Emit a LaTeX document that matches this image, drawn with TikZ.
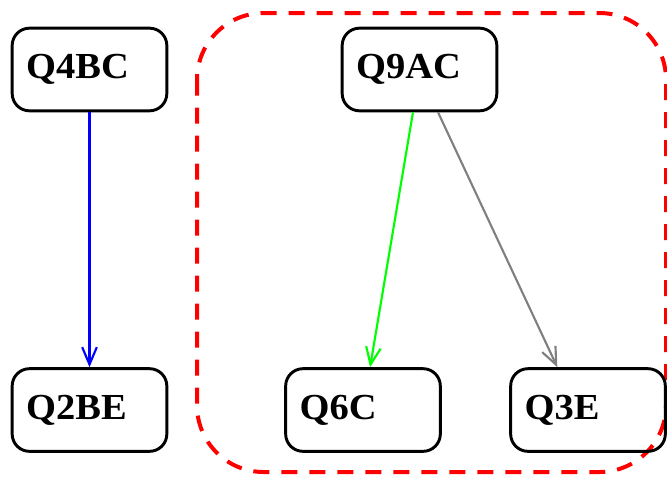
\documentclass[tikz,border=0pt]{standalone}
\usepackage{fontspec}
\setmainfont{Liberation Serif}
\usetikzlibrary{arrows.meta}
\begin{document}
\begin{tikzpicture}[x=0.75pt,y=-0.75pt,
  qbox/.style={draw=black,line width=2.2pt,rounded corners=13pt,minimum width=116pt,minimum height=62pt,
    text width=95pt,align=left,inner xsep=9pt,inner ysep=0pt,font=\fontsize{27.5}{29}\selectfont\bfseries},
  edge/.style={line width=1.6pt,-{Straight Barb[length=13pt,width=11pt,line width=1.6pt]}},
  cluster/.style={draw=red,line width=3pt,dash pattern=on 12pt off 9pt,rounded corners=50pt}]
\useasboundingbox (0,0) rectangle (667,476);
\draw[cluster] (197,13) rectangle (666,472);
\node[qbox] (q4bc) at (89.5,69.5) {\raisebox{3pt}{\scalebox{1.05}[1]{Q4BC}}};
\node[qbox] (q9ac) at (419.5,69.5) {\raisebox{3pt}{\scalebox{1.05}[1]{Q9AC}}};
\node[qbox] (q2be) at (89.5,410) {\raisebox{2pt}{\scalebox{1.05}[1]{Q2BE}}};
\node[qbox] (q6c) at (363,410) {\raisebox{2pt}{\scalebox{1.05}[1]{Q6C}}};
\node[qbox] (q3e) at (588,410) {\raisebox{2pt}{\scalebox{1.05}[1]{Q3E}}};
\draw[edge,blue] (q4bc.south) -- (q2be.north);
\draw[edge,green] ([xshift=-4.9pt]q9ac.south) -- ([xshift=5.3pt]q6c.north);
\draw[edge,gray] ([xshift=13.9pt]q9ac.south) -- ([xshift=-23pt]q3e.north);
\end{tikzpicture}
\end{document}
